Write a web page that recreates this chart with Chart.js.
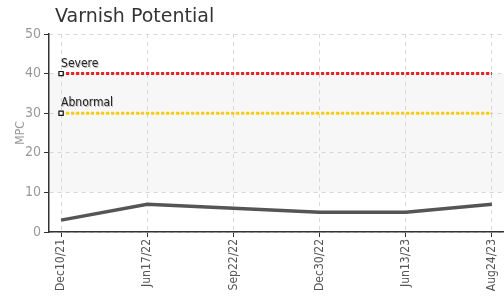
<!DOCTYPE html>
<html>
<head>
<meta charset="utf-8">
<script src="https://cdn.jsdelivr.net/npm/chart.js@4.4.0/dist/chart.umd.min.js"></script>
<style>
  html, body { margin: 0; padding: 0; background: #fff; }
  #wrap { width: 504px; height: 297px; }
</style>
</head>
<body>
<div id="wrap"><canvas id="chart_mpc"></canvas></div>
<script>
// chart data
const chartTitle = "Varnish Potential";
const categories = ["Dec10/21", "Jun17/22", "Sep22/22", "Dec30/22", "Jun13/23", "Aug24/23"];
const mpcValues = [3, 7, 6, 5, 5, 7];
const severeLevel = 40;
const abnormalLevel = 30;
const bandRange = [10, 40];
const yTicks = [0, 10, 20, 30, 40, 50];

const narrow = "'Liberation Sans Narrow', 'DejaVu Sans Condensed', sans-serif";

function flatLine(level) {
  return categories.map((c, i) => ({ x: i, y: level }));
}

// light band behind the grid
const bandPlugin = {
  id: "band",
  beforeDraw(chart) {
    const { ctx, chartArea } = chart;
    const y = chart.scales.y;
    const top = y.getPixelForValue(bandRange[1]);
    const bottom = y.getPixelForValue(bandRange[0]);
    ctx.save();
    ctx.fillStyle = "#f7f7f7";
    ctx.fillRect(chartArea.left, top, chartArea.right - chartArea.left, bottom - top);
    ctx.restore();
  }
};

// title sits a bit right of the y axis
const titlePlugin = {
  id: "leftTitle",
  afterDraw(chart) {
    const ctx = chart.ctx;
    ctx.save();
    ctx.font = "19px 'DejaVu Sans', sans-serif";
    ctx.fillStyle = "#333";
    ctx.textAlign = "left";
    ctx.textBaseline = "alphabetic";
    ctx.fillText(chartTitle, chart.chartArea.left + 6, 22);
    ctx.restore();
  }
};

// "Severe" / "Abnormal" text on the first point of each limit line
const limitLabels = {
  id: "limitLabels",
  afterDatasetsDraw(chart) {
    const ctx = chart.ctx;
    chart.data.datasets.forEach((ds, i) => {
      if (!ds.limitName) return;
      const pt = chart.getDatasetMeta(i).data[0];
      ctx.save();
      ctx.font = "12px " + narrow;
      ctx.textAlign = "left";
      ctx.textBaseline = "bottom";
      ctx.fillStyle = "rgba(0,0,0,0.25)";
      ctx.fillText(ds.limitName, pt.x + 1, pt.y - 3);
      ctx.fillStyle = "#222";
      ctx.fillText(ds.limitName, pt.x, pt.y - 4);
      ctx.restore();
    });
  }
};

const markerRadius = categories.map((c, i) => (i === 0 ? 3 : 0));

let chart = new Chart(document.getElementById("chart_mpc"), {
  type: "line",
  data: {
    datasets: [
      {
        label: "Severe",
        limitName: "Severe",
        data: flatLine(severeLevel),
        borderColor: "#ff1a1a",
        borderWidth: 3,
        borderDash: [3, 2],
        pointStyle: "rect",
        pointRadius: markerRadius,
        pointBackgroundColor: "#fff",
        pointBorderColor: "#111",
        pointBorderWidth: 1.2
      },
      {
        label: "Abnormal",
        limitName: "Abnormal",
        data: flatLine(abnormalLevel),
        borderColor: "#ffcc00",
        borderWidth: 3,
        borderDash: [3, 2],
        pointStyle: "rect",
        pointRadius: markerRadius,
        pointBackgroundColor: "#fff",
        pointBorderColor: "#111",
        pointBorderWidth: 1.2
      },
      {
        label: "MPC",
        data: mpcValues.map((v, i) => ({ x: i, y: v })),
        borderColor: "#555",
        borderWidth: 3.5,
        pointRadius: 0,
        tension: 0
      }
    ]
  },
  options: {
    responsive: true,
    maintainAspectRatio: false,
    animation: false,
    layout: { autoPadding: false, padding: { left: 0, right: 0, top: 34, bottom: 0 } },
    plugins: {
      legend: { display: false },
      tooltip: { enabled: false },
      title: { display: false }
    },
    scales: {
      x: {
        type: "linear",
        min: -0.14,
        max: categories.length - 1 + 0.14,
        afterFit(scale) {
          scale.height = 65;
          scale.paddingLeft = 0;
          scale.paddingRight = 0;
        },
        afterBuildTicks(scale) {
          scale.ticks = categories.map((c, i) => ({ value: i }));
        },
        ticks: {
          includeBounds: false,
          autoSkip: false,
          minRotation: 90,
          maxRotation: 90,
          padding: 2,
          color: "#555",
          font: { family: narrow, size: 12 },
          callback: (v) => categories[v]
        },
        grid: {
          color: "#d8d8d8",
          tickColor: "#333",
          tickLength: 5,
          lineWidth: 1
        },
        border: { display: true, color: "#333", width: 1.5, dash: [4, 4] }
      },
      y: {
        min: 0,
        max: 50,
        afterFit(scale) {
          scale.width = 49;
          scale.paddingTop = 0;
          scale.paddingBottom = 0;
        },
        afterBuildTicks(scale) {
          scale.ticks = yTicks.map((v) => ({ value: v }));
        },
        ticks: {
          color: "#999",
          padding: 3,
          font: { family: narrow, size: 14 }
        },
        title: {
          display: true,
          text: "MPC",
          color: "#999",
          padding: { top: 14, bottom: 0 },
          font: { family: narrow, size: 12 }
        },
        grid: {
          color: "#d8d8d8",
          tickColor: "#333",
          tickLength: 5
        },
        border: { display: true, color: "#333", width: 1.5, dash: [4, 4] }
      }
    }
  },
  plugins: [bandPlugin, limitLabels, titlePlugin]
});
</script>
</body>
</html>
